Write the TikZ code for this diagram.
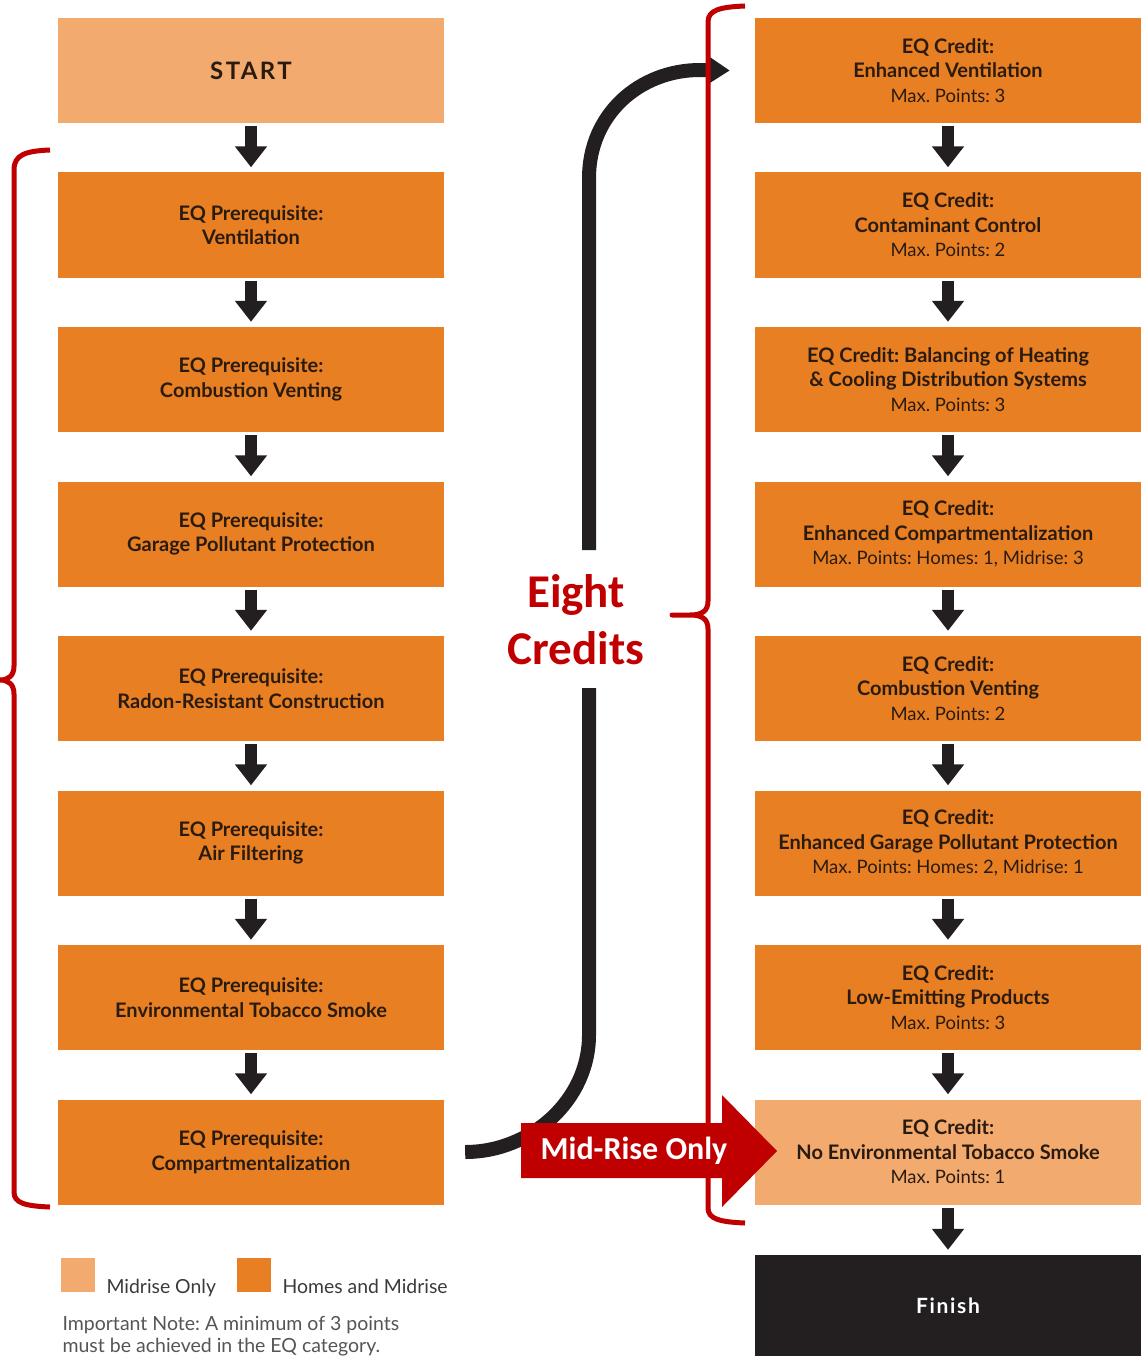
\documentclass[tikz,border=0pt]{standalone}
\usepackage{fontspec}
\setmainfont{Lato}
\newfontfamily\calib{Carlito}
\usetikzlibrary{arrows.meta}
\definecolor{orng}{HTML}{E87F22}
\definecolor{lite}{HTML}{F2AA6E}
\definecolor{txt}{HTML}{2A1B10}
\definecolor{redc}{HTML}{C00000}
\definecolor{blk}{HTML}{231F20}
\definecolor{keyc}{HTML}{3A3A3A}
\definecolor{notec}{HTML}{555555}
\frenchspacing
\newcommand{\pts}[1]{{\mdseries\fontsize{18.5}{24.5}\selectfont #1}}
\begin{document}
\frenchspacing
\begin{tikzpicture}[x=1pt,y=-1pt,
  box/.style={minimum width=386pt, minimum height=105pt, inner sep=0pt, align=center, text=txt,
    font=\fontsize{20}{24.5}\selectfont\bfseries},
  hm/.style={box, fill=orng},
  mo/.style={box, fill=lite},
  arr/.style={line width=12pt, draw=blk, -{Triangle[width=31pt,length=21pt]}, shorten <=3pt, shorten >=5pt},
  bigarr/.style={line width=14pt, draw=blk},
  brace/.style={line width=5pt, draw=redc, line join=round},
  keytxt/.style={anchor=base west, text=keyc, font=\fontsize{19.4}{22}\selectfont},
  notetxt/.style={anchor=base west, text=notec, font=\fontsize{19.5}{22}\selectfont}
]
\useasboundingbox (0,0) rectangle (1141,1356);

% left column
\node[mo, font=\fontsize{24}{28}\selectfont\bfseries\addfontfeature{LetterSpace=10}] (l0) at (251,70.5) {START};
\node[hm] (l1) at (251,225)    {EQ Prerequisite:\\Ventilation};
\node[hm] (l2) at (251,379.5)  {EQ Prerequisite:\\Combustion Venting};
\node[hm] (l3) at (251,534)    {EQ Prerequisite:\\Garage Pollutant Protection};
\node[hm] (l4) at (251,688.5)  {EQ Prerequisite:\\Radon-Resistant Construction};
\node[hm] (l5) at (251,843)    {EQ Prerequisite:\\Air Filtering};
\node[hm] (l6) at (251,997.5)  {EQ Prerequisite:\\Environmental Tobacco Smoke};
\node[hm] (l7) at (251,1152)   {EQ Prerequisite:\\Compartmentalization};

% right column
\node[hm] (r1) at (948,70.5)   {EQ Credit:\\Enhanced Ventilation\\\pts{Max. Points: 3}};
\node[hm] (r2) at (948,225)    {EQ Credit:\\Contaminant Control\\\pts{Max. Points: 2}};
\node[hm] (r3) at (948,379.5)  {EQ Credit: Balancing of Heating\\\& Cooling Distribution Systems\\\pts{Max. Points: 3}};
\node[hm] (r4) at (948,534)    {EQ Credit:\\Enhanced Compartmentalization\\\pts{Max. Points: Homes: 1, Midrise: 3}};
\node[hm] (r5) at (948,688.5)  {EQ Credit:\\Combustion Venting\\\pts{Max. Points: 2}};
\node[hm] (r6) at (948,843)    {EQ Credit:\\Enhanced Garage Pollutant Protection\\\pts{Max. Points: Homes: 2, Midrise: 1}};
\node[hm] (r7) at (948,997.5)  {EQ Credit:\\Low-Emitting Products\\\pts{Max. Points: 3}};
\node[mo] (r8) at (948,1152)   {EQ Credit:\\No Environmental Tobacco Smoke\\\pts{Max. Points: 1}};
\node[box, fill=blk, text=white, minimum height=102pt, font=\fontsize{21}{24}\selectfont\bfseries\addfontfeature{LetterSpace=8}] (fin) at (948,1306) {Finish};

% straight arrows
\foreach \a/\b in {l0/l1,l1/l2,l2/l3,l3/l4,l4/l5,l5/l6,l6/l7,r1/r2,r2/r3,r3/r4,r4/r5,r5/r6,r6/r7,r7/r8,r8/fin}
  \draw[arr] (\a.south) -- (\b.north);

% big curved connector
\coordinate (gapB) at (589,688);
\coordinate (gapT) at (589,550);
\draw[bigarr] ([xshift=21pt]l7.east) .. controls (531,1152) and (589,1100) .. (589,1035) -- (gapB);
\draw[bigarr, -{Triangle[width=27pt,length=22pt]}] (gapT) -- (589,178) .. controls (589,114) and (640,70) .. (700,70) -- ([xshift=-25pt]r1.west);

% braces
\draw[brace] (50,150) .. controls (25,151) and (14,155) .. (14,170) -- (14,666)
  .. controls (14,676) and (8,680) .. (0,680) .. controls (8,680) and (14,684) .. (14,694)
  -- (14,1192) .. controls (14,1203) and (25,1206) .. (50,1207);
\draw[brace] (745,6) .. controls (720,7) and (708,10) .. (708,22) -- (708,601)
  .. controls (708,611) and (702,615) .. (690,615) -- (672,615) -- (690,615)
  .. controls (702,615) and (708,619) .. (708,629) -- (708,1208)
  .. controls (708,1219) and (720,1222) .. (745,1223);

\node[align=center, text=redc, font=\calib\bfseries\fontsize{47}{57}\selectfont] (ec) at (576,620) {Eight\\Credits};

% Mid-Rise arrow
\fill[redc] (521,1123) -- (722,1123) -- (722,1095) -- (777,1151) -- (722,1207) -- (722,1178) -- (521,1178) -- cycle;
\node[text=white, font=\calib\bfseries\fontsize{32}{36}\selectfont] (mr) at (634,1151) {Mid-Rise Only};

% legend
\node[fill=lite, minimum size=34pt, inner sep=0pt] (k1) at (78,1275) {};
\node[keytxt] (k1t) at (103,1293) {Midrise Only};
\node[fill=orng, minimum size=34pt, inner sep=0pt] (k2) at (254,1275) {};
\node[keytxt] (k2t) at (279,1293) {Homes and Midrise};
\node[notetxt] (n1) at (59,1330) {Important Note: A minimum of 3 points};
\node[notetxt] (n2) at (59,1352) {must be achieved in the EQ category.};
\end{tikzpicture}
\end{document}
